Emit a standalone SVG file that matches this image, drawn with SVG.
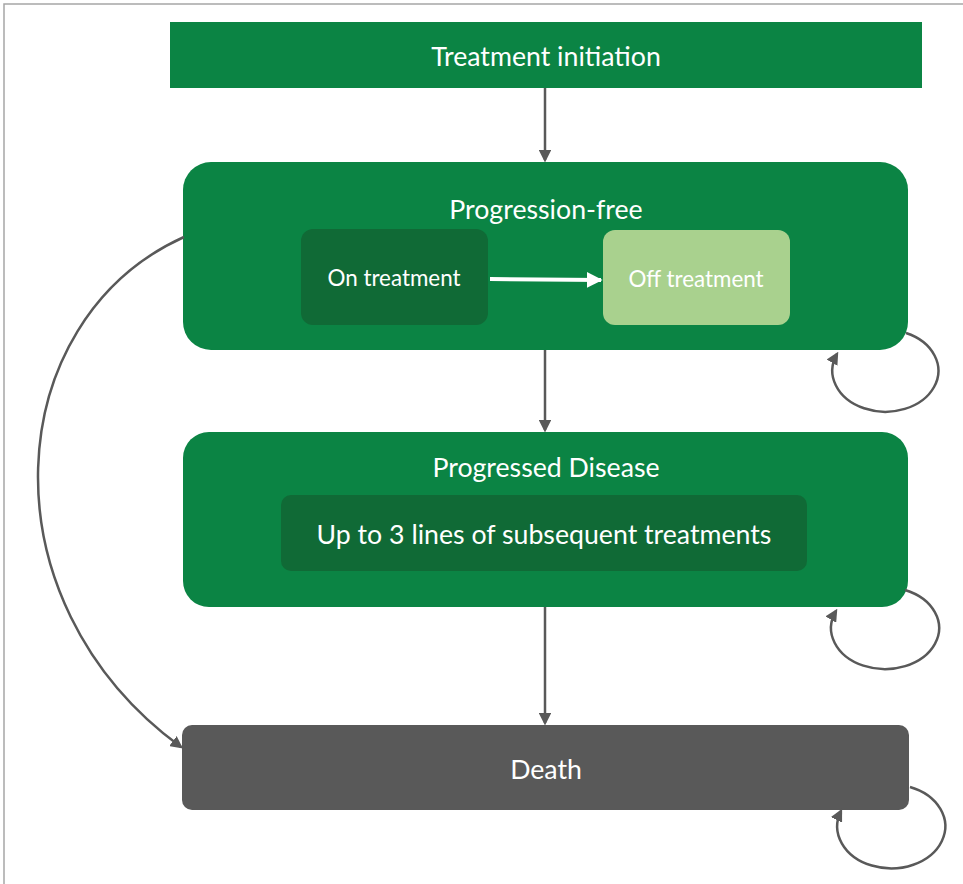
<svg xmlns="http://www.w3.org/2000/svg" width="963" height="884" viewBox="0 0 963 884">
<defs>
<style>
.frame{stroke:#a6a6a6;stroke-width:1.5;fill:none}
.green{fill:#0b8444}
.dark{fill:#106a36}
.light{fill:#a9d18e}
.grey{fill:#595959}
.t{font-family:Lato,"Open Sans","Liberation Sans",sans-serif;fill:#ffffff;text-anchor:middle;dominant-baseline:central}
.big{font-size:26.7px}
.mid{font-size:22.4px}
.con{stroke:#595959;stroke-width:2.5;fill:none}
</style>
<marker id="ah" viewBox="0 0 10 10" refX="8" refY="5" markerWidth="5" markerHeight="5" orient="auto" markerUnits="strokeWidth">
<path d="M0,0 L10,5 L0,10 z" fill="#595959"/>
</marker>
<marker id="wh" viewBox="0 0 10 10" refX="9" refY="5" markerWidth="4" markerHeight="4" orient="auto" markerUnits="strokeWidth">
<path d="M0,0 L10,5 L0,10 z" fill="#ffffff"/>
</marker>
</defs>
<rect width="963" height="884" fill="#ffffff"/>
<path class="frame" d="M4,884 L4,4 L963,4"/>

<g id="treatment-initiation">
<rect class="green" x="170" y="22" width="752" height="66"/>
<text class="t big" x="546" y="56">Treatment initiation</text>
</g>

<g id="progression-free">
<rect class="green" x="183" y="162" width="725" height="188" rx="28"/>
<text class="t big" x="546" y="209">Progression-free</text>
</g>
<g id="on-treatment">
<rect class="dark" x="301" y="229" width="187" height="96" rx="12"/>
<text class="t mid" x="394" y="277">On treatment</text>
</g>
<g id="off-treatment">
<rect class="light" x="603" y="230" width="187" height="95" rx="12"/>
<text class="t mid" x="696" y="278">Off treatment</text>
</g>

<g id="progressed-disease">
<rect class="green" x="183" y="432" width="725" height="175" rx="26"/>
<text class="t big" x="546" y="467">Progressed Disease</text>
</g>
<g id="subsequent-treatments">
<rect class="dark" x="281" y="495" width="526" height="76" rx="10"/>
<text class="t big" x="544" y="534">Up to 3 lines of subsequent treatments</text>
</g>

<g id="death">
<rect class="grey" x="182" y="725" width="727" height="85" rx="10"/>
<text class="t big" x="546" y="769">Death</text>
</g>

<g id="connectors">
<path class="con" d="M545,88 L545,160" marker-end="url(#ah)"/>
<path class="con" d="M545,350 L545,430" marker-end="url(#ah)"/>
<path class="con" d="M545,607 L545,723" marker-end="url(#ah)"/>
<path d="M490,279 L601,280" stroke="#ffffff" stroke-width="4" fill="none" marker-end="url(#wh)"/>
<path class="con" d="M184,237 C0,320 -20,600 181,747" marker-end="url(#ah)"/>
<path class="con" d="M906,333 A53,41 0 1 1 837,354" marker-end="url(#ah)"/>
<path class="con" d="M905,590 A54,41 0 1 1 836,611" marker-end="url(#ah)"/>
<path class="con" d="M910,787 A54,42 0 1 1 841,811" marker-end="url(#ah)"/>
</g>
</svg>
